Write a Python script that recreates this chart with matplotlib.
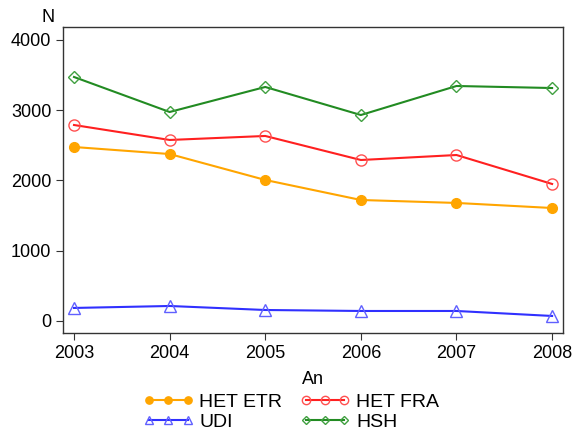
import matplotlib
matplotlib.use("Agg")
import matplotlib.pyplot as plt

plt.rcParams['font.family'] = ['Liberation Sans', 'DejaVu Sans']

years = [2003, 2004, 2005, 2006, 2007, 2008]
het_etr = [2475, 2375, 2006, 1721, 1679, 1607]
het_fra = [2788, 2575, 2632, 2290, 2361, 1949]
udi = [185, 213, 156, 142, 142, 71]
hsh = [3471, 2973, 3329, 2930, 3343, 3314]

fig = plt.figure(figsize=(5.74, 4.33), dpi=100)
ax = fig.add_axes([0.1098, 0.231, 0.8712, 0.7066])

l1, = ax.plot(years, het_etr, color='#FFA500', marker='o', ms=7, mfc='#FFA500', mec='#FFA500', lw=1.5, label='HET ETR')
l2, = ax.plot(years, het_fra, color='#FF2020', marker='o', ms=8, mfc='none', mec='#FF5050', lw=1.5, label='HET FRA')
l3, = ax.plot(years, udi, color='#3030FF', marker='^', ms=8, mfc='none', mec='#6060FF', lw=1.5, label='UDI')
l4, = ax.plot(years, hsh, color='#228B22', marker='D', ms=6, mfc='none', mec='#40A040', lw=1.5, label='HSH')

ax.set_xlim(2002.885, 2008.115)
ax.set_ylim(-171, 4182)
ax.set_xticks(years)
ax.set_yticks([0, 1000, 2000, 3000, 4000])
ax.tick_params(labelsize=13, direction='out', length=5, color='#333333')
for s in ax.spines.values():
    s.set_color('#333333')
    s.set_linewidth(1.0)

fig.text(48 / 574, 1 - 18 / 433, 'N', fontsize=13, ha='center', va='center')
fig.text(313 / 574, 1 - 380 / 433, 'An', fontsize=13, ha='center', va='center')

fig.legend([l1, l3, l2, l4], ['HET ETR', 'UDI', 'HET FRA', 'HSH'],
           ncol=2, loc='center', bbox_to_anchor=(0.507, 1 - 412 / 433),
           frameon=False, fontsize=14, numpoints=3, handlelength=2.6,
           handletextpad=0.3, columnspacing=0.9, labelspacing=0.1,
           markerscale=0.75, borderpad=0)

fig.savefig('out.png', dpi=100)
